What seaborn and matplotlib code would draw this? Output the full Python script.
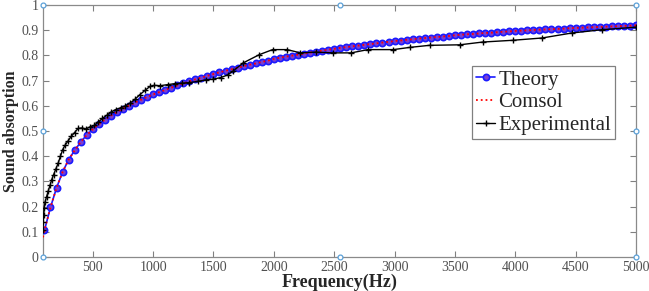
import numpy as np
import pandas as pd
import matplotlib
matplotlib.use('Agg')
import matplotlib.pyplot as plt
from matplotlib.ticker import FormatStrFormatter
import seaborn as sns

# Theory (markers every 50 Hz)
theory_freq = list(range(100, 5001, 50))
theory_alpha = [
    0.106, 0.197, 0.274, 0.337, 0.386, 0.423, 0.456, 0.484, 0.507, 0.527,
    0.545, 0.561, 0.575, 0.589, 0.601, 0.613, 0.624, 0.635, 0.645, 0.654,
    0.663, 0.672, 0.681, 0.689, 0.697, 0.705, 0.712, 0.719, 0.726, 0.733,
    0.739, 0.745, 0.751, 0.757, 0.763, 0.768, 0.774, 0.779, 0.786, 0.791,
    0.795, 0.799, 0.803, 0.807, 0.811, 0.815, 0.819, 0.823, 0.826, 0.830,
    0.833, 0.836, 0.839, 0.842, 0.845, 0.848, 0.851, 0.854, 0.857, 0.859,
    0.862, 0.864, 0.867, 0.869, 0.871, 0.873, 0.875, 0.877, 0.880, 0.882,
    0.884, 0.885, 0.887, 0.889, 0.890, 0.892, 0.894, 0.895, 0.897, 0.898,
    0.899, 0.901, 0.902, 0.903, 0.904, 0.905, 0.906, 0.908, 0.909, 0.910,
    0.911, 0.912, 0.913, 0.914, 0.915, 0.916, 0.917, 0.918, 0.919,
]

# Comsol (dotted, starts a bit lower)
comsol_freq = [88] + theory_freq
comsol_alpha = [0.078] + theory_alpha

# Experimental
exp_freq = [
    88, 90, 93, 97, 105, 118, 132, 146, 160, 176, 195, 214, 232, 250, 270,
    296, 322, 350, 378, 410, 445, 475, 510, 545, 580, 615, 650, 690, 730,
    770, 810, 850, 890, 935, 975, 1010, 1060, 1120, 1180, 1240, 1300, 1370,
    1440, 1500, 1560, 1620, 1660, 1745, 1880, 1990, 2110, 2220, 2350, 2490,
    2640, 2780, 2990, 3130, 3290, 3540, 3730, 3980, 4220, 4470, 4720, 5000,
]
exp_alpha = [
    0.108, 0.140, 0.168, 0.194, 0.218, 0.240, 0.263, 0.284, 0.307, 0.327,
    0.350, 0.373, 0.399, 0.425, 0.443, 0.461, 0.479, 0.494, 0.510, 0.512,
    0.508, 0.516, 0.522, 0.535, 0.550, 0.562, 0.575, 0.585, 0.592, 0.600,
    0.611, 0.626, 0.644, 0.662, 0.677, 0.681, 0.680, 0.684, 0.688, 0.690,
    0.692, 0.697, 0.703, 0.706, 0.712, 0.723, 0.737, 0.770, 0.803, 0.823,
    0.823, 0.810, 0.813, 0.810, 0.810, 0.823, 0.823, 0.832, 0.840, 0.842,
    0.853, 0.860, 0.869, 0.889, 0.902, 0.912,
]

sns.set_style('ticks')
plt.rcParams['font.family'] = ['Liberation Serif', 'DejaVu Serif']

fig, ax = plt.subplots(figsize=(6.49, 2.91), dpi=100)
fig.subplots_adjust(left=43 / 649, right=636 / 649, bottom=1 - 257 / 291, top=1 - 5 / 291)

sns.lineplot(x=theory_freq, y=theory_alpha, ax=ax, color='#1a1aff', lw=1.2,
             marker='o', markersize=4.5, markerfacecolor='#7a3fd0',
             markeredgecolor='#1a1aff', markeredgewidth=1.2, label='Theory', zorder=3)
sns.lineplot(x=comsol_freq, y=comsol_alpha, ax=ax, color='#ff0000', lw=1.3,
             linestyle=':', label='Comsol', zorder=4)
sns.lineplot(x=exp_freq, y=exp_alpha, ax=ax, color='black', lw=1.0,
             marker='+', markersize=5, markeredgecolor='black',
             markeredgewidth=1.0, label='Experimental', zorder=5)

ax.set_xlim(88, 5000)
ax.set_ylim(0, 1)
ax.set_xticks(np.arange(500, 5001, 500))
ax.set_yticks(np.arange(0, 1.01, 0.1))
ax.yaxis.set_major_formatter(FormatStrFormatter('%g'))
ax.xaxis.set_major_formatter(FormatStrFormatter('%g'))
ax.tick_params(direction='in', top=True, right=True, length=4, width=0.8,
               color='#808080', labelcolor='#505050', labelsize=10, pad=3)
for s in ax.spines.values():
    s.set_color('#8a8a8a')
    s.set_linewidth(0.9)

ax.set_xlabel('Frequency(Hz)', fontsize=13, fontweight='bold', labelpad=0)
ax.set_ylabel('Sound absorption', fontsize=11.5, fontweight='bold', labelpad=2)

# MATLAB edit-mode handles on the box
hx = [0, 0, 0, 0.5, 0.5, 1, 1, 1]
hy = [0, 0.5, 1, 0, 1, 0, 0.5, 1]
ax.plot(hx, hy, linestyle='none', marker='o', markersize=3.5, markerfacecolor='white',
        markeredgecolor='#5aa0d8', markeredgewidth=0.9, transform=ax.transAxes,
        clip_on=False, zorder=10)

leg = ax.legend(loc='upper right', bbox_to_anchor=(0.965, 0.758), fontsize=15,
                frameon=True, fancybox=False, framealpha=1, edgecolor='#808080',
                handlelength=0.9, handletextpad=0.15, labelspacing=0.15,
                borderpad=0.2, borderaxespad=0)
leg.get_frame().set_linewidth(0.9)

fig.savefig('out.png', dpi=100)
